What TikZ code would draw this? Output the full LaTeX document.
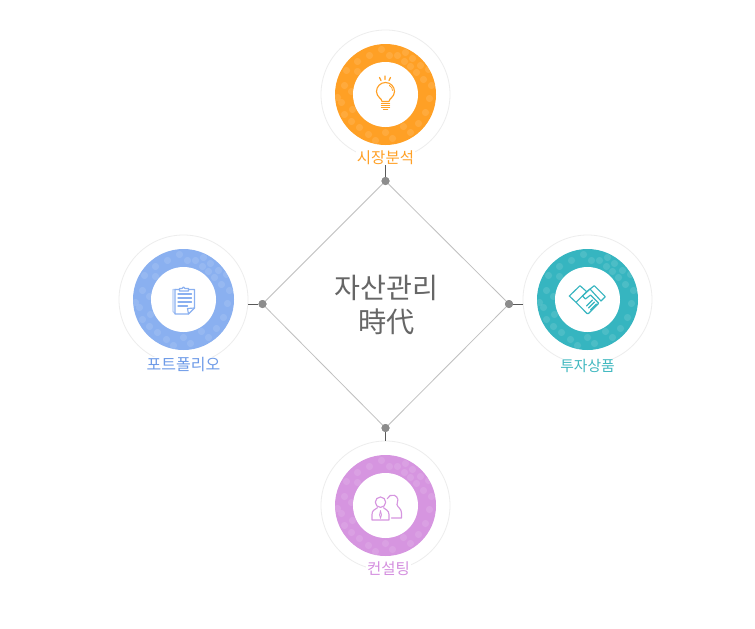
\documentclass[tikz,border=0pt]{standalone}
\usepackage{fontspec}
\setmainfont{Noto Sans CJK KR}
\definecolor{cOrange}{HTML}{FFA025}
\definecolor{cBlue}{HTML}{8AB0F0}
\definecolor{cTeal}{HTML}{36B5C0}
\definecolor{cPurple}{HTML}{D695E0}
\definecolor{tBlue}{HTML}{6E9BE8}
\definecolor{tTeal}{HTML}{3FB8C0}
\definecolor{tPurple}{HTML}{D48FDF}
\tikzset{
  x=1pt,y=-1pt,
  halo/.style={circle,draw=black!7,line width=.8pt,fill=white,minimum size=129pt,inner sep=0pt},
  hub/.style={circle,fill=black!45,minimum size=8pt,inner sep=0pt},
  edgeline/.style={draw=black!25,line width=.8pt},
  stub/.style={draw=black!65,line width=.8pt},
  caption/.style={font=\fontsize{#1}{16}\selectfont,inner sep=0pt,fill=white,inner xsep=1pt},
  caption/.default=15.5,
  title/.style={font=\fontsize{28.2}{34}\selectfont,text=black!60,align=center,inner sep=0pt},
  ico/.style={line width=1.15pt,line cap=round,line join=round}
}
\newcommand{\ringat}[3]{%
 \begin{scope}[shift={(#1,#2)}]
  \fill[#3] (0,0) circle (50.5);
  \begin{scope}
   \clip (0,0) circle (50.5);
   \foreach \a/\b in {-4/-45,-16/-39,-28/-33,4/-39,12/-39,20/-42,27/-36,19/-33,35/-29,-39/-24,-41/-9,38/-15,31/-22,46/-9,-48/3,-34/-3,44/4,-41/20,-33/15,40/18,33/29,18/32,25/38,7/44,-10/46,-17/40,-26/33,-34/27,0/38,25/-28,-44/8,43/-25,-28/-23}
     \fill[white,opacity=.11] (\a,\b) circle (3.6);
  \end{scope}
  \fill[white] (0,0) circle (32.5);
 \end{scope}}
\begin{document}
\begin{tikzpicture}
\useasboundingbox (0,0) rectangle (755,629);
\fill[white] (0,0) rectangle (755,629);
% halos
\node[halo] (hT) at (385.5,94.5) {};
\node[halo] (hL) at (183.5,299.5) {};
\node[halo] (hR) at (587.5,299.5) {};
\node[halo] (hB) at (385.5,505.5) {};
\ringat{385.5}{94.5}{cOrange}
\ringat{183.5}{299.5}{cBlue}
\ringat{587.5}{299.5}{cTeal}
\ringat{385.5}{505.5}{cPurple}
% diamond
\node[hub] (dT) at (385.5,181) {};
\node[hub] (dR) at (509,304) {};
\node[hub] (dB) at (385.5,428) {};
\node[hub] (dL) at (262.5,304) {};
\draw[edgeline] (dT.center)--(dR.center)--(dB.center)--(dL.center)--cycle;
\coordinate (sT) at (385.5,165);
\coordinate (sL) at (248,304);
\coordinate (sR) at (523,304);
\coordinate (sB) at (385.5,441);
\draw[stub] (sT)--(dT);
\draw[stub] (sL)--(dL);
\draw[stub] (sR)--(dR);
\draw[stub] (sB)--(dB);
\node[hub] at (dT) {};\node[hub] at (dR) {};\node[hub] at (dB) {};\node[hub] at (dL) {};
% labels
\node[caption,text=cOrange] (lT) at (385.5,158) {시장분석};
\node[caption=16,text=tBlue] (lL) at (183.5,364.5) {포트폴리오};
\node[caption=14.8,text=tTeal] (lR) at (587.5,365.5) {투자상품};
\node[caption,text=tPurple] (lB) at (388.5,569) {컨설팅};
\node[title] (ttl) at (386.5,305) {자산관리\\時代};
% bulb
\begin{scope}[shift={(385.5,94.5)},ico,draw=cOrange]
 \draw (-3.5,7) .. controls (-3.5,4) and (-9,2.5) .. (-9,-3) arc (180:360:9) .. controls (9,2.5) and (3.5,4) .. (3.5,7) -- cycle;
 \draw[line width=.8pt] (4,-9) .. controls (6,-8) and (7,-6) .. (7,-4);
 \draw (-4,9)--(4,9) (-4,11.2)--(4,11.2) (-4,13.4)--(4,13.4);
 \draw (-2,15.3)--(2,15.3);
 \draw (-6,-17)--(-4.5,-14) (-.5,-18.5)--(-.5,-15) (5,-17)--(3.5,-14);
\end{scope}
% clipboard
\begin{scope}[shift={(183.5,299.5)},ico,draw=cBlue]
 \draw[draw opacity=.6] (-8,-10)--(-10.5,-10)--(-10.5,12)--(-8.5,14);
 \draw (-4,-10)--(-8.5,-10)--(-8.5,14.5)--(5,14.5)--(11,8.5)--(11,-10)--(5,-10);
 \draw[fill=white] (-4,-8.5)--(-4,-11)--(-1.5,-11) arc (180:360:1.5)--(5,-11)--(5,-8.5)--cycle;
 \draw (-5.5,-5.5)--(8,-5.5) (-5.5,-1.5)--(8,-1.5) (-5.5,2.5)--(8,2.5) (-5.5,6.5)--(4,6.5);
 \draw (5,14.5)--(4,9)--(11,8.5);
\end{scope}
% handshake
\begin{scope}[shift={(587.5,299.5)},ico,draw=cTeal]
 \draw (-18.2,-3.5)--(-7.5,-13.8)--(-.8,-7.8)--(-11.5,2.8)--cycle;
 \draw (2.5,-10.5)--(6.8,-13.8)--(17.8,-2.8)--(13.5,1.5)--cycle;
 \draw (-.8,-7.8)--(2.5,-10.5);
 \draw (-11.5,2.8)--(-.5,14)--(1,14)--(11,4);
 \draw (1.5,-9.5)--(-5,-3.5)--(-2,-.5)--(3,-4.5)--(11,3.5);
 \draw (5,0.5)--(-1,6.5) (7,2.5)--(1,8.5) (9,4.5)--(3,10.5);
\end{scope}
% people
\begin{scope}[shift={(385.5,505.5)},ico,draw=cPurple]
 \draw (1.83,-6.9) arc (200:390:5.5) -- (11.5,-1) .. controls (12,2) and (16,3) .. (16,7.5)--(16,12.5)--(6,12.5);
 \draw (-5,-3.3) circle (5.2);
 \draw (-8,2.2) .. controls (-11,4) and (-13.5,5) .. (-13.5,9)--(-13.5,14.5)--(3.5,14.5)--(3.5,9) .. controls (3.5,5) and (0,4) .. (-2,2.2);
 \draw[line width=.8pt] (-5,5) .. controls (-6.5,8) and (-6,11) .. (-5,13) .. controls (-4,11) and (-3.5,8) .. (-5,5);
\end{scope}
\end{tikzpicture}
\end{document}
